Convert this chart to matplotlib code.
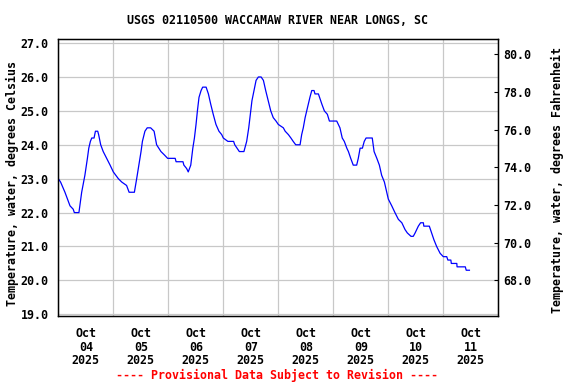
import matplotlib
matplotlib.use("Agg")
import matplotlib.pyplot as plt
import matplotlib.dates as mdates
import pandas as pd

# hours after 2025-10-04 00:00, water temperature in deg C
hours = [0, 1.0, 2.9, 5.1, 6.5, 7.0, 9.0, 10.2, 11.6, 12.7, 13.3, 14.0, 14.6, 15.6,
         16.2, 17.2, 17.6, 18.5, 19.6, 21.1, 22.6, 24.0, 26.2, 27.7, 29.8, 30.9,
         33.2, 34.2, 34.9, 36.1, 36.7, 37.8, 38.8, 40.3, 41.8, 42.9, 44.8, 46.3,
         47.7, 51.0, 51.4, 54.4, 54.8, 56.0, 56.7, 57.8, 58.7, 59.4, 60.1, 60.7,
         61.4, 62.3, 63.0, 64.5, 65.5, 66.5, 67.6, 68.8, 70.1, 71.3, 72.0, 74.0,
         76.5, 77.0, 78.0, 79.0, 81.0, 82.2, 83.1, 83.8, 84.5, 85.4, 86.3, 87.3,
         88.5, 89.5, 90.5, 91.6, 92.7, 93.8, 95.0, 96.0, 98.2, 99.0, 100.4, 101.5,
         102.5, 103.6, 105.5, 106.2, 106.9, 107.7, 108.4, 109.1, 109.8, 110.6,
         111.6, 112.0, 113.5, 115.0, 116.1, 117.4, 118.3, 121.5, 122.2, 122.9,
         123.9, 124.8, 125.9, 126.6, 127.6, 128.7, 130.2, 130.9, 131.7, 132.7,
         133.5, 134.3, 137.0, 137.8, 139.0, 140.1, 141.1, 142.3, 144.0, 145.5,
         146.9, 148.4, 149.9, 151.3, 152.3, 153.9, 154.9, 155.7, 157.1, 158.1,
         159.3, 159.5, 161.9, 162.9, 163.9, 165.1, 166.6, 168.0, 169.5, 170.0,
         171.3, 171.5, 173.9, 174.0, 177.6, 178.0, 179.4]
temps = [23.0, 22.9, 22.6, 22.2, 22.1, 22.0, 22.0, 22.6, 23.1, 23.6, 23.9, 24.1, 24.2, 24.2,
         24.4, 24.4, 24.3, 24.0, 23.8, 23.6, 23.4, 23.2, 23.0, 22.9, 22.8, 22.6,
         22.6, 23.0, 23.3, 23.8, 24.1, 24.4, 24.5, 24.5, 24.4, 24.0, 23.8, 23.7,
         23.6, 23.6, 23.5, 23.5, 23.4, 23.3, 23.2, 23.4, 23.9, 24.2, 24.6, 25.0,
         25.4, 25.6, 25.7, 25.7, 25.5, 25.2, 24.9, 24.6, 24.4, 24.3, 24.2, 24.1,
         24.1, 24.0, 23.9, 23.8, 23.8, 24.1, 24.5, 24.9, 25.3, 25.6, 25.9, 26.0,
         26.0, 25.9, 25.6, 25.3, 25.0, 24.8, 24.7, 24.6, 24.5, 24.4, 24.3, 24.2,
         24.1, 24.0, 24.0, 24.3, 24.5, 24.8, 25.0, 25.2, 25.4, 25.6,
         25.6, 25.5, 25.5, 25.2, 25.0, 24.9, 24.7, 24.7, 24.6, 24.5,
         24.2, 24.1, 23.9, 23.8, 23.6, 23.4, 23.4, 23.6, 23.9, 23.9,
         24.1, 24.2, 24.2, 23.8, 23.6, 23.4, 23.1, 22.9, 22.4, 22.2,
         22.0, 21.8, 21.7, 21.5, 21.4, 21.3, 21.3, 21.4, 21.6, 21.7,
         21.7, 21.6, 21.6, 21.4, 21.2, 21.0, 20.8, 20.7, 20.7, 20.6,
         20.6, 20.5, 20.5, 20.4, 20.4, 20.3, 20.3]

start = pd.Timestamp("2025-10-04 00:00")
end = pd.Timestamp("2025-10-12 00:00")
times = [start + pd.Timedelta(hours=h) for h in hours]

font = {"family": "DejaVu Sans Mono", "weight": "bold", "size": 8.4}

fig = plt.figure(figsize=(5.76, 3.84), dpi=100)
ax = fig.add_axes([58.3 / 576, 1 - 316 / 384, 440 / 576, 277 / 384])

ax.plot(times, temps, color="#0000ff", lw=0.9)

ylo, yhi = 18.95, 27.12
ax.set_ylim(ylo, yhi)
ax.set_xlim(start, end)
ax.set_yticks([19, 20, 21, 22, 23, 24, 25, 26, 27])
ax.set_yticklabels(["%.1f" % v for v in ax.get_yticks()], fontdict=font)

ax.xaxis.set_major_locator(mdates.DayLocator())
ax.xaxis.set_major_formatter(plt.NullFormatter())
ax.xaxis.set_minor_locator(mdates.HourLocator(byhour=[12]))
ax.xaxis.set_minor_formatter(mdates.DateFormatter("%b\n%d\n%Y"))
for lab in ax.get_xticklabels(minor=True):
    lab.set_fontproperties(matplotlib.font_manager.FontProperties(**font))
ax.tick_params(axis="x", which="both", length=0, pad=8)
ax.tick_params(axis="y", length=0, pad=7)
for lab in ax.xaxis.get_minorticklabels():
    lab.set_linespacing(1.05)

ax.grid(True, which="major", color="#c8c8c8", lw=0.9)
ax.set_axisbelow(True)
for s in ax.spines.values():
    s.set_linewidth(1.0)

ax2 = ax.twinx()
ax2.set_ylim(ylo * 9 / 5 + 32, yhi * 9 / 5 + 32)
fticks = [68, 70, 72, 74, 76, 78, 80]
ax2.set_yticks(fticks)
ax2.set_yticklabels(["%.1f" % v for v in fticks], fontdict=font)
ax2.tick_params(axis="y", direction="in", length=3, width=0.8, pad=3.5)

fig.text(277.8 / 576, 1 - 20 / 384, "USGS 02110500 WACCAMAW RIVER NEAR LONGS, SC",
         ha="center", va="center", **font)
fig.text(12 / 576, 1 - 183 / 384, "Temperature, water, degrees Celsius",
         rotation=90, ha="center", va="center", **font)
fig.text(557 / 576, 1 - 180 / 384, "Temperature, water, degrees Fahrenheit",
         rotation=90, ha="center", va="center", **font)
fig.text(277.5 / 576, 1 - 375 / 384, "---- Provisional Data Subject to Revision ----",
         ha="center", va="center", color="red", **font)

fig.savefig("out.png", dpi=100)
